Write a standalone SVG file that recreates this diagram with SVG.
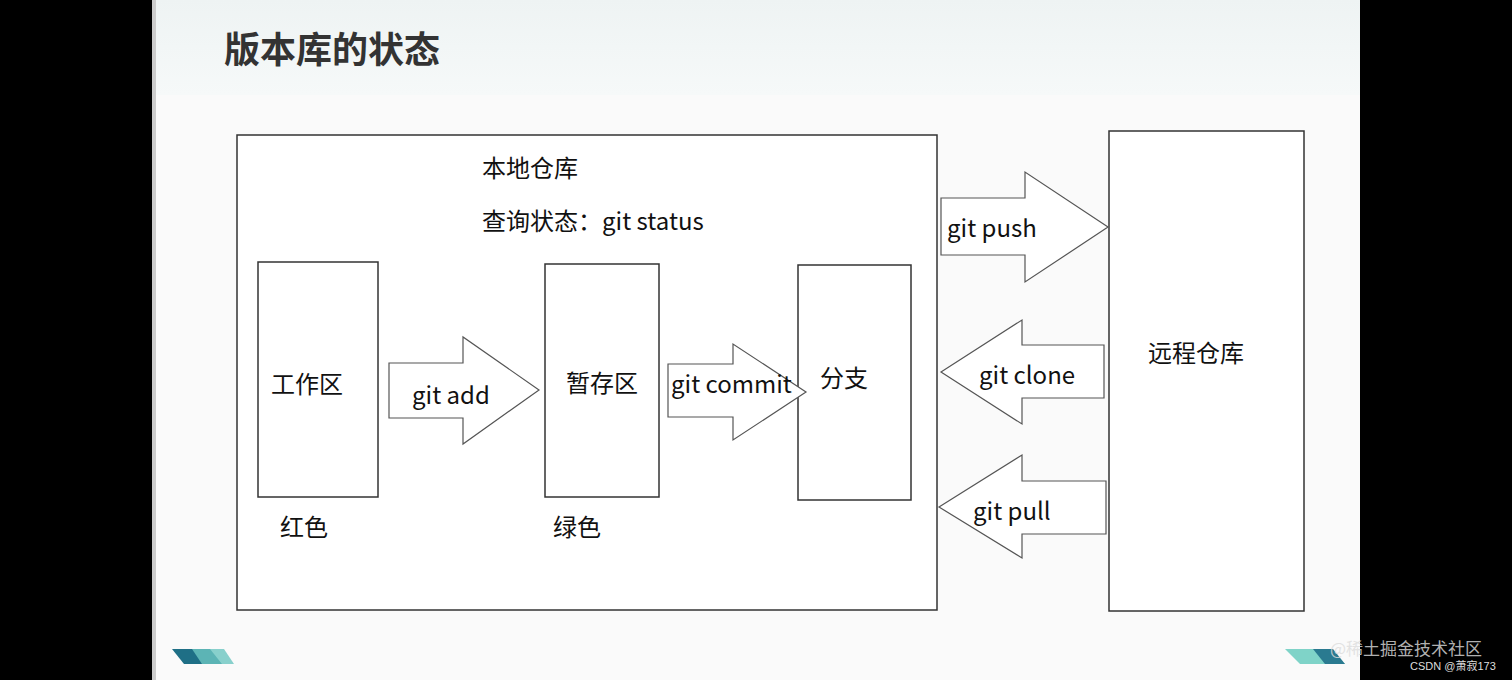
<svg xmlns="http://www.w3.org/2000/svg" width="1512" height="680" viewBox="0 0 1512 680">
<defs>
<linearGradient id="hdr" x1="0" y1="0" x2="0" y2="1"><stop offset="0" stop-color="#eef3f3"/><stop offset="1" stop-color="#f6f9f9"/></linearGradient>
<style>
.b{fill:#fff;stroke:#333;stroke-width:1.5}
.a{fill:#fff;stroke:#555;stroke-width:1.2}
.t{font-family:"Noto Sans CJK SC","Noto Sans",sans-serif;font-size:24px;fill:#111}
</style>
</defs>
<rect width="1512" height="680" fill="#000"/>
<rect x="152" y="0" width="1208" height="680" fill="#fafafa"/>
<rect x="152" y="0" width="4" height="680" fill="#ccc"/>
<rect x="156" y="0" width="1204" height="95" fill="url(#hdr)"/>
<text x="224" y="63" font-family="Noto Sans CJK SC,sans-serif" font-size="36" font-weight="bold" fill="#333">版本库的状态</text>
<g id="deco">
<polygon points="172,649 210,649 222,664 184,664" fill="#1f6f86"/>
<polygon points="192,649 224,649 234,664 202,664" fill="#6cc6c0" opacity="0.8"/>
<polygon points="1285,649 1330,649 1345,664 1300,664" fill="#7fd3c8"/>
<polygon points="1313,649 1333,649 1345,664 1325,664" fill="#2a7a90"/>
</g>
<g id="local"><rect class="b" x="237" y="135" width="700" height="475"/>
<text class="t" x="482" y="177">本地仓库</text>
<text class="t" x="482" y="230">查询状态：git status</text>
<text class="t" x="280" y="536">红色</text>
<text class="t" x="553" y="536">绿色</text></g>
<g id="work"><rect class="b" x="258" y="262" width="120" height="235"/><text class="t" x="271" y="393">工作区</text></g>
<g id="stage"><rect class="b" x="545" y="264" width="114" height="233"/><text class="t" x="566" y="392">暂存区</text></g>
<g id="branch"><rect class="b" x="798" y="265" width="113" height="235"/><text class="t" x="820" y="387">分支</text></g>
<g id="remote"><rect class="b" x="1109" y="131" width="195" height="480"/><text class="t" x="1148" y="362">远程仓库</text></g>
<g id="connectors">
<polygon class="a" points="389,363 463,363 463,337 539,390 463,444 463,418 389,418"/>
<text class="t" x="412" y="404">git add</text>
<polygon class="a" points="668,364 733,364 733,344 806,392 733,440 733,417 668,417"/>
<text class="t" x="671" y="393">git commit</text>
<polygon class="a" points="941,198 1025,198 1025,172 1108,227 1025,282 1025,255 941,255"/>
<text class="t" x="947" y="237">git push</text>
<polygon class="a" points="941,372 1022,320 1022,345 1104,345 1104,398 1022,398 1022,424"/>
<text class="t" x="979" y="384">git clone</text>
<polygon class="a" points="939,507 1022,455 1022,481 1106,481 1106,534 1022,534 1022,558"/>
<text class="t" x="973" y="520">git pull</text>
</g>
<text x="1330" y="655" font-family="Noto Sans CJK SC,sans-serif" font-size="17" fill="#ddd" opacity="0.8">@稀土掘金技术社区</text>
<text x="1410" y="670" font-family="Liberation Sans,Noto Sans CJK SC,sans-serif" font-size="11" fill="#ddd">CSDN @萧寂173</text>
</svg>
